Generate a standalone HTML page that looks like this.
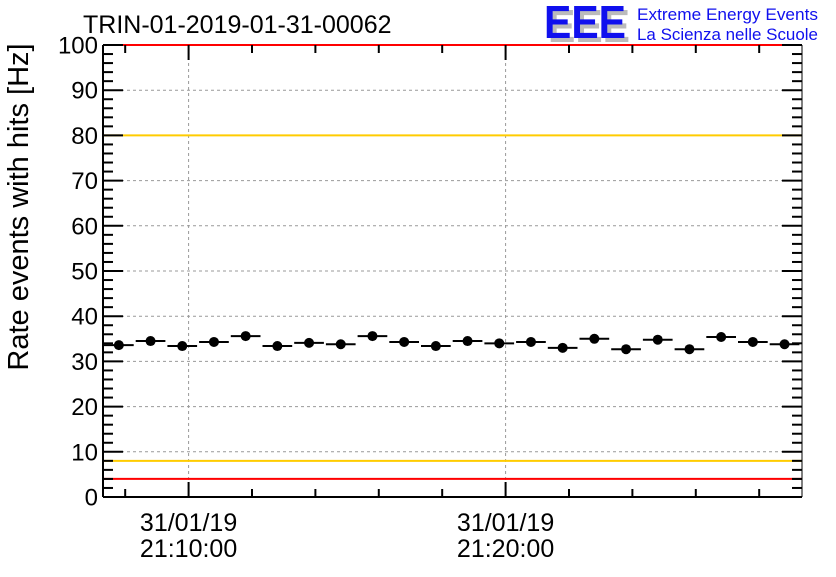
<!DOCTYPE html>
<html><head><meta charset="utf-8"><style>
body{margin:0;background:#fff;}
svg text{font-family:"Liberation Sans",sans-serif;}
</style></head><body>
<svg id="chart" width="836" height="572" xmlns="http://www.w3.org/2000/svg">
<text x="83" y="33" font-size="25" fill="#000">TRIN-01-2019-01-31-00062</text>
<g>
<text x="548" y="42" font-size="46" font-weight="bold" fill="#bbb" textLength="82" lengthAdjust="spacingAndGlyphs">EEE</text>
<text x="544" y="38" font-size="46" font-weight="bold" fill="#1010ee" textLength="82" lengthAdjust="spacingAndGlyphs">EEE</text>
<text x="637" y="20" font-size="17" fill="#1010ee" textLength="181" lengthAdjust="spacingAndGlyphs">Extreme Energy Events</text>
<text x="637" y="40" font-size="17" fill="#1010ee" textLength="181" lengthAdjust="spacingAndGlyphs">La Scienza nelle Scuole</text>
</g>
<text transform="translate(28,207) rotate(-90)" text-anchor="middle" font-size="29" fill="#000">Rate events with hits [Hz]</text>
<g id="grid"></g><g id="refs"></g><g id="axes"></g><g id="marks"></g>
</svg>
<script>
const values=[33.6,34.5,33.4,34.3,35.6,33.4,34.1,33.8,35.6,34.3,33.4,34.5,34.0,34.3,33.0,35.0,32.7,34.8,32.7,35.4,34.3,33.8];
const yTicks=[0,10,20,30,40,50,60,70,80,90,100];
const xTickLabels=[["31/01/19","21:10:00",10],["31/01/19","21:20:00",20]];
const redLines=[4,100];
const yellowLines=[8,80];
const startMin=7.3;
const X0=103,X1=802,Y0=497,Y1=45;
const pxPerMin=31.7;
const sx=m=>X0+(m-startMin)*pxPerMin;
const sy=v=>Y0-(v/100)*(Y0-Y1);
const NS="http://www.w3.org/2000/svg";
function mk(tag,attrs,parent){const e=document.createElementNS(NS,tag);for(const k in attrs)e.setAttribute(k,attrs[k]);document.getElementById(parent).appendChild(e);return e;}
yTicks.forEach(v=>{if(v>0&&v<100){const l=mk('line',{x1:X0,x2:X1,y1:sy(v),y2:sy(v),stroke:'#999','stroke-dasharray':'3,3','stroke-width':1},'grid');

}});
xTickLabels.forEach(t=>{const l=mk('line',{x1:sx(t[2]),x2:sx(t[2]),y1:Y1,y2:Y0,stroke:'#999','stroke-dasharray':'3,3','stroke-width':1},'grid');

});
yellowLines.forEach(v=>{const l=mk('line',{x1:X0,x2:X1,y1:sy(v),y2:sy(v),stroke:'#ffcc00','stroke-width':2},'refs');

});
redLines.forEach(v=>{const l=mk('line',{x1:X0,x2:X1,y1:sy(v),y2:sy(v),stroke:'#ff0000','stroke-width':2},'refs');

});
let a=mk('line',{x1:X0,x2:X0,y1:Y1,y2:Y0,stroke:'#000','stroke-width':2},'axes');


a=mk('line',{x1:X0,x2:X1,y1:Y0,y2:Y0,stroke:'#000','stroke-width':2},'axes');


a=mk('line',{x1:X1,x2:X1,y1:Y1,y2:Y0,stroke:'#000','stroke-width':1},'axes');


for(let v=0;v<=100;v+=2){const len=v%10===0?20:10;
mk('line',{x1:X0,x2:X0+len,y1:sy(v),y2:sy(v),stroke:'#000','stroke-width':2},'axes');
mk('line',{x1:X1-len,x2:X1,y1:sy(v),y2:sy(v),stroke:'#000','stroke-width':2},'axes');}
yTicks.forEach(v=>{const t=mk('text',{x:X0-5,y:sy(v)+8.5,'text-anchor':'end','font-size':24,fill:'#000'},'axes');t.textContent=v;

});
for(let m=8;sx(m)<X1;m+=2){const len=m%10===0?15:8;
mk('line',{x1:sx(m),x2:sx(m),y1:Y0,y2:Y0-len,stroke:'#000','stroke-width':2},'axes');
mk('line',{x1:sx(m),x2:sx(m),y1:Y1,y2:Y1+len,stroke:'#000','stroke-width':2},'axes');}
xTickLabels.forEach(t=>{const a1=mk('text',{x:sx(t[2]),y:531,'text-anchor':'middle','font-size':25,fill:'#000'},'axes');a1.textContent=t[0];


const a2=mk('text',{x:sx(t[2]),y:557,'text-anchor':'middle','font-size':25,fill:'#000'},'axes');a2.textContent=t[1];

});
values.forEach((v,i)=>{const xl=X0+i*pxPerMin,xc=xl+pxPerMin/2;
const l=mk('line',{x1:xl+1,x2:xl+pxPerMin-1,y1:sy(v),y2:sy(v),stroke:'#000','stroke-width':2},'marks');


const c=mk('circle',{cx:xc,cy:sy(v),r:5,fill:'#000'},'marks');

});
</script>
</body></html>
